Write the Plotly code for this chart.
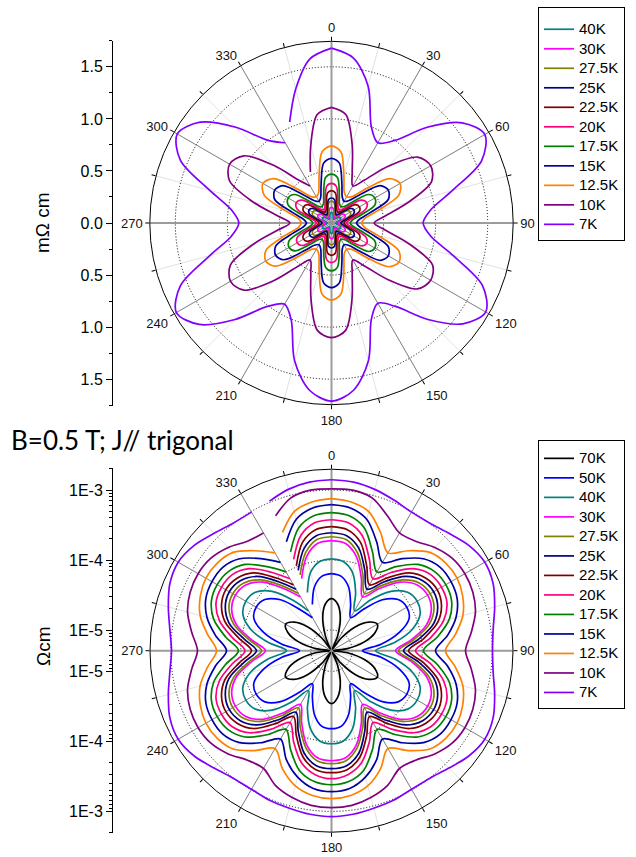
import math
import plotly.graph_objects as go

# ---------------- angles (degrees, clockwise from top) ----------------
theta_deg = [0.0, 7.5, 15.0, 22.5, 30.0, 37.5, 45.0, 52.5, 60.0, 67.5, 75.0, 82.5, 90.0,
             97.5, 105.0, 112.5, 120.0, 127.5, 135.0, 142.5, 150.0, 157.5, 165.0, 172.5, 180.0,
             187.5, 195.0, 202.5, 210.0, 217.5, 225.0, 232.5, 240.0, 247.5, 255.0, 262.5, 270.0,
             277.5, 285.0, 292.5, 300.0, 307.5, 315.0, 322.5, 330.0, 333.75, 337.5, 345.0, 352.5]
angle_ticks = [0, 30, 60, 90, 120, 150, 180, 210, 240, 270, 300, 330]

# ---------------- top panel: resistivity in mOhm cm ----------------
top_labels = ["40K", "30K", "27.5K", "25K", "22.5K", "20K", "17.5K", "15K", "12.5K", "10K", "7K"]
top_colors = ["#008080", "#ff00ff", "#808000", "#000080", "#800000", "#ff0080",
              "#008000", "#0000a0", "#ff8000", "#800080", "#8000ff"]

top_40K = [0.10, 0.093, 0.062, 0.045, 0.04, 0.045, 0.062, 0.093, 0.10, 0.093, 0.062, 0.045, 0.04,
           0.045, 0.062, 0.093, 0.10, 0.093, 0.062, 0.045, 0.04, 0.045, 0.062, 0.093, 0.10,
           0.093, 0.062, 0.045, 0.04, 0.045, 0.062, 0.093, 0.10, 0.093, 0.062, 0.045, 0.04,
           0.045, 0.062, 0.093, 0.10, 0.093, 0.062, 0.045, 0.04, 0.042, 0.045, 0.062, 0.093]
top_30K = [0.15, 0.14, 0.095, 0.065, 0.057, 0.065, 0.095, 0.14, 0.15, 0.14, 0.095, 0.065, 0.057,
           0.065, 0.095, 0.14, 0.15, 0.14, 0.095, 0.065, 0.057, 0.065, 0.095, 0.14, 0.15,
           0.14, 0.095, 0.065, 0.057, 0.065, 0.095, 0.14, 0.15, 0.14, 0.095, 0.065, 0.057,
           0.065, 0.095, 0.14, 0.15, 0.14, 0.095, 0.065, 0.057, 0.06, 0.065, 0.095, 0.14]
top_27_5K = [0.21, 0.195, 0.13, 0.09, 0.08, 0.09, 0.13, 0.195, 0.21, 0.195, 0.13, 0.09, 0.08,
             0.09, 0.13, 0.195, 0.21, 0.195, 0.13, 0.09, 0.08, 0.09, 0.13, 0.195, 0.21,
             0.195, 0.13, 0.09, 0.08, 0.09, 0.13, 0.195, 0.21, 0.195, 0.13, 0.09, 0.08,
             0.09, 0.13, 0.195, 0.21, 0.195, 0.13, 0.09, 0.08, 0.085, 0.09, 0.13, 0.195]
top_25K = [0.24, 0.225, 0.15, 0.105, 0.09, 0.105, 0.15, 0.23, 0.25, 0.23, 0.15, 0.105, 0.09,
           0.105, 0.15, 0.23, 0.25, 0.23, 0.15, 0.105, 0.09, 0.105, 0.15, 0.225, 0.24,
           0.225, 0.15, 0.105, 0.09, 0.105, 0.15, 0.225, 0.24, 0.225, 0.15, 0.105, 0.09,
           0.105, 0.15, 0.23, 0.25, 0.23, 0.15, 0.105, 0.09, 0.095, 0.105, 0.15, 0.225]
top_22_5K = [0.31, 0.29, 0.19, 0.135, 0.12, 0.135, 0.19, 0.29, 0.31, 0.29, 0.19, 0.135, 0.12,
             0.135, 0.19, 0.29, 0.31, 0.29, 0.19, 0.135, 0.12, 0.135, 0.19, 0.29, 0.31,
             0.29, 0.19, 0.135, 0.12, 0.135, 0.19, 0.29, 0.31, 0.29, 0.19, 0.135, 0.12,
             0.135, 0.19, 0.29, 0.31, 0.29, 0.19, 0.135, 0.12, 0.125, 0.135, 0.19, 0.29]
top_20K = [0.38, 0.355, 0.235, 0.165, 0.145, 0.165, 0.235, 0.36, 0.39, 0.36, 0.235, 0.165, 0.145,
           0.165, 0.235, 0.36, 0.39, 0.36, 0.235, 0.165, 0.145, 0.165, 0.235, 0.355, 0.38,
           0.355, 0.235, 0.165, 0.145, 0.165, 0.235, 0.355, 0.38, 0.355, 0.235, 0.165, 0.145,
           0.165, 0.235, 0.36, 0.39, 0.36, 0.235, 0.165, 0.145, 0.15, 0.165, 0.235, 0.355]
top_17_5K = [0.47, 0.44, 0.29, 0.20, 0.18, 0.20, 0.29, 0.45, 0.48, 0.45, 0.29, 0.20, 0.18,
             0.20, 0.29, 0.45, 0.48, 0.45, 0.29, 0.20, 0.18, 0.20, 0.29, 0.43, 0.46,
             0.43, 0.29, 0.20, 0.18, 0.20, 0.29, 0.44, 0.47, 0.44, 0.29, 0.20, 0.18,
             0.20, 0.29, 0.45, 0.48, 0.45, 0.29, 0.20, 0.18, 0.19, 0.20, 0.29, 0.44]
top_15K = [0.62, 0.58, 0.385, 0.27, 0.24, 0.27, 0.385, 0.59, 0.63, 0.59, 0.385, 0.27, 0.24,
           0.27, 0.385, 0.59, 0.63, 0.59, 0.385, 0.27, 0.24, 0.27, 0.385, 0.58, 0.62,
           0.58, 0.385, 0.27, 0.24, 0.27, 0.385, 0.58, 0.62, 0.58, 0.385, 0.27, 0.24,
           0.27, 0.385, 0.59, 0.63, 0.59, 0.385, 0.27, 0.24, 0.25, 0.27, 0.385, 0.58]
top_12_5K = [0.74, 0.69, 0.46, 0.32, 0.29, 0.32, 0.46, 0.70, 0.76, 0.70, 0.46, 0.32, 0.29,
             0.32, 0.46, 0.70, 0.75, 0.69, 0.46, 0.32, 0.29, 0.32, 0.46, 0.69, 0.74,
             0.69, 0.46, 0.32, 0.29, 0.32, 0.46, 0.68, 0.73, 0.68, 0.46, 0.32, 0.29,
             0.32, 0.46, 0.70, 0.76, 0.70, 0.46, 0.32, 0.29, 0.30, 0.32, 0.46, 0.69]
top_10K = [1.11, 1.05, 0.77, 0.52, 0.41, 0.52, 0.77, 1.04, 1.10, 1.04, 0.76, 0.52, 0.41,
           0.52, 0.77, 1.05, 1.10, 1.04, 0.77, 0.52, 0.41, 0.52, 0.76, 1.04, 1.10,
           1.04, 0.76, 0.52, 0.41, 0.52, 0.78, 1.06, 1.12, 1.05, 0.77, 0.52, 0.40,
           0.52, 0.78, 1.06, 1.13, 1.06, 0.78, 0.52, 0.41, None, 0.53, 0.77, 1.05]
top_7K = [1.68, 1.60, 1.36, 1.00, 0.89, 1.00, 1.30, 1.58, 1.70, 1.56, 1.20, 0.96, 0.88,
          0.96, 1.21, 1.57, 1.71, 1.59, 1.31, 1.01, 0.89, 1.00, 1.37, 1.62, 1.71,
          1.62, 1.37, 1.01, 0.90, 1.01, 1.31, 1.60, 1.72, 1.57, 1.21, 0.97, 0.89,
          0.97, 1.21, 1.57, 1.71, 1.59, 1.30, 1.00, 0.89, None, 1.05, 1.33, 1.59]

# ---------------- bottom panel: resistivity in Ohm cm (log radial) ----------------
bot_labels = ["70K", "50K", "40K", "30K", "27.5K", "25K", "22.5K", "20K", "17.5K", "15K", "12.5K", "10K", "7K"]
bot_colors = ["#000000", "#0000ff", "#008080", "#ff00ff", "#808000", "#000080", "#800000",
              "#ff0080", "#008000", "#0000a0", "#ff8000", "#800080", "#8000ff"]

bot_70K = [2.80e-5, 2.38e-5, 1.55e-5, 8.57e-6, 5.41e-6, 8.57e-6, 1.55e-5, 2.38e-5, 2.89e-5, 2.38e-5, 1.55e-5, 8.57e-6, 5.41e-6,
           8.57e-6, 1.55e-5, 2.38e-5, 2.89e-5, 2.38e-5, 1.55e-5, 8.57e-6, 5.41e-6, 8.57e-6, 1.55e-5, 2.38e-5, 2.89e-5,
           2.38e-5, 1.55e-5, 8.57e-6, 5.41e-6, 8.57e-6, 1.55e-5, 2.38e-5, 2.89e-5, 2.38e-5, 1.55e-5, 8.57e-6, 5.41e-6,
           8.57e-6, 1.55e-5, 2.38e-5, 2.89e-5, 2.38e-5, 1.55e-5, 8.57e-6, 5.41e-6, 6.4e-6, 8.57e-6, 1.55e-5, 2.38e-5]
bot_50K = [6.37e-5, 5.97e-5, 4.44e-5, 2.62e-5, 1.77e-5, 2.80e-5, 5.41e-5, 8.02e-5, 8.85e-5, 8.02e-5, 5.06e-5, 2.62e-5, 1.40e-5,
           2.62e-5, 5.06e-5, 8.02e-5, 8.85e-5, 8.02e-5, 5.41e-5, 2.80e-5, 1.77e-5, 2.62e-5, 4.44e-5, 6.17e-5, 6.59e-5,
           6.17e-5, 4.44e-5, 2.62e-5, 1.77e-5, 2.80e-5, 5.41e-5, 8.02e-5, 8.85e-5, 8.02e-5, 5.06e-5, 2.62e-5, 1.45e-5,
           2.62e-5, 5.06e-5, 8.02e-5, 8.85e-5, 8.02e-5, 5.41e-5, 2.80e-5, 1.77e-5, None, 2.62e-5, 4.44e-5, 5.97e-5]
bot_40K = [1.04e-4, 9.77e-5, 7.27e-5, 4.02e-5, 2.30e-5, 4.16e-5, 8.02e-5, 1.19e-4, 1.31e-4, 1.19e-4, 8.02e-5, 4.16e-5, 2.15e-5,
           4.16e-5, 8.02e-5, 1.19e-4, 1.31e-4, 1.19e-4, 8.02e-5, 4.16e-5, 2.30e-5, 4.02e-5, 7.27e-5, 1.01e-4, 1.08e-4,
           1.01e-4, 7.27e-5, 4.02e-5, 2.30e-5, 4.16e-5, 8.02e-5, 1.19e-4, 1.31e-4, 1.19e-4, 8.02e-5, 4.16e-5, 2.22e-5,
           4.16e-5, 8.02e-5, 1.19e-4, 1.31e-4, 1.19e-4, 8.02e-5, 4.16e-5, 2.30e-5, None, 4.02e-5, 7.27e-5, 9.77e-5]
bot_30K = [1.89e-4, 1.77e-4, 1.23e-4, 6.59e-5, 3.89e-5, 6.59e-5, 1.23e-4, 1.77e-4, 1.95e-4, 1.77e-4, 1.27e-4, 7.03e-5, 4.16e-5,
           7.03e-5, 1.27e-4, 1.77e-4, 1.95e-4, 1.77e-4, 1.23e-4, 6.59e-5, 3.89e-5, 6.59e-5, 1.23e-4, 1.77e-4, 1.89e-4,
           1.77e-4, 1.23e-4, 6.59e-5, 3.89e-5, 6.59e-5, 1.23e-4, 1.77e-4, 1.95e-4, 1.77e-4, 1.27e-4, 7.03e-5, 4.44e-5,
           7.03e-5, 1.27e-4, 1.77e-4, 1.95e-4, 1.77e-4, 1.23e-4, 6.59e-5, 3.89e-5, None, 6.59e-5, 1.23e-4, 1.77e-4]
bot_27_5K = [2.15e-4, 2.02e-4, 1.40e-4, 7.51e-5, 4.44e-5, 7.51e-5, 1.36e-4, 1.95e-4, 2.15e-4, 1.95e-4, 1.40e-4, 7.76e-5, 4.59e-5,
             7.76e-5, 1.40e-4, 1.95e-4, 2.15e-4, 1.95e-4, 1.36e-4, 7.51e-5, 4.44e-5, 7.51e-5, 1.36e-4, 1.95e-4, 2.08e-4,
             1.95e-4, 1.36e-4, 7.51e-5, 4.44e-5, 7.51e-5, 1.36e-4, 1.95e-4, 2.15e-4, 1.95e-4, 1.40e-4, 7.76e-5, 5.06e-5,
             7.76e-5, 1.40e-4, 1.95e-4, 2.15e-4, 1.95e-4, 1.36e-4, 7.51e-5, 4.44e-5, None, 7.51e-5, 1.40e-4, 2.02e-4]
bot_25K = [2.45e-4, 2.30e-4, 1.65e-4, 8.85e-5, 5.23e-5, 8.85e-5, 1.60e-4, 2.22e-4, 2.45e-4, 2.22e-4, 1.65e-4, 9.15e-5, 5.41e-5,
           9.15e-5, 1.65e-4, 2.22e-4, 2.45e-4, 2.22e-4, 1.60e-4, 8.85e-5, 5.23e-5, 8.85e-5, 1.65e-4, 2.30e-4, 2.45e-4,
           2.30e-4, 1.65e-4, 8.85e-5, 5.23e-5, 8.85e-5, 1.60e-4, 2.22e-4, 2.45e-4, 2.22e-4, 1.65e-4, 9.15e-5, 5.97e-5,
           9.15e-5, 1.65e-4, 2.22e-4, 2.45e-4, 2.22e-4, 1.60e-4, 8.85e-5, 5.23e-5, None, 8.85e-5, 1.65e-4, 2.30e-4]
bot_22_5K = [2.99e-4, 2.80e-4, 2.02e-4, 1.04e-4, 6.17e-5, 1.04e-4, 1.89e-4, 2.54e-4, 2.80e-4, 2.54e-4, 1.89e-4, 1.08e-4, 6.37e-5,
             1.08e-4, 1.89e-4, 2.54e-4, 2.80e-4, 2.54e-4, 1.89e-4, 1.04e-4, 6.17e-5, 1.04e-4, 1.89e-4, 2.62e-4, 2.80e-4,
             2.62e-4, 1.89e-4, 1.04e-4, 6.17e-5, 1.04e-4, 1.89e-4, 2.54e-4, 2.80e-4, 2.54e-4, 1.89e-4, 1.08e-4, 7.03e-5,
             1.08e-4, 1.89e-4, 2.54e-4, 2.80e-4, 2.54e-4, 1.89e-4, 1.04e-4, 6.17e-5, None, 1.04e-4, 2.02e-4, 2.80e-4]
bot_20K = [3.76e-4, 3.52e-4, 2.54e-4, 1.31e-4, 7.76e-5, 1.31e-4, 2.30e-4, 3.09e-4, 3.30e-4, 3.09e-4, 2.30e-4, 1.36e-4, 8.02e-5,
           1.36e-4, 2.30e-4, 3.09e-4, 3.30e-4, 3.09e-4, 2.30e-4, 1.31e-4, 7.76e-5, 1.31e-4, 2.30e-4, 3.09e-4, 3.41e-4,
           3.09e-4, 2.30e-4, 1.31e-4, 7.76e-5, 1.31e-4, 2.30e-4, 3.09e-4, 3.30e-4, 3.09e-4, 2.30e-4, 1.36e-4, 8.70e-5,
           1.36e-4, 2.30e-4, 3.09e-4, 3.30e-4, 3.09e-4, 2.30e-4, 1.31e-4, 7.76e-5, None, 1.31e-4, 2.54e-4, 3.52e-4]
bot_17_5K = [4.74e-4, 4.44e-4, 3.30e-4, 1.71e-4, 1.01e-4, 1.65e-4, 2.80e-4, 3.64e-4, 3.89e-4, 3.64e-4, 2.80e-4, 1.71e-4, 1.04e-4,
             1.71e-4, 2.80e-4, 3.64e-4, 3.89e-4, 3.64e-4, 2.80e-4, 1.65e-4, 1.01e-4, 1.71e-4, 2.99e-4, 3.89e-4, 4.16e-4,
             3.89e-4, 2.99e-4, 1.71e-4, 1.01e-4, 1.65e-4, 2.80e-4, 3.64e-4, 3.89e-4, 3.64e-4, 2.80e-4, 1.71e-4, 1.08e-4,
             1.71e-4, 2.80e-4, 3.64e-4, 3.89e-4, 3.64e-4, 2.80e-4, 1.65e-4, 1.01e-4, None, 1.71e-4, 3.30e-4, 4.44e-4]
bot_15K = [6.17e-4, 5.77e-4, 4.44e-4, 2.45e-4, 1.45e-4, 2.30e-4, 3.64e-4, 4.59e-4, 4.74e-4, 4.44e-4, 3.52e-4, 2.38e-4, 1.55e-4,
           2.38e-4, 3.52e-4, 4.44e-4, 4.74e-4, 4.59e-4, 3.64e-4, 2.30e-4, 1.45e-4, 2.45e-4, 3.76e-4, 4.90e-4, 5.23e-4,
           4.90e-4, 3.76e-4, 2.45e-4, 1.45e-4, 2.30e-4, 3.64e-4, 4.59e-4, 4.74e-4, 4.44e-4, 3.52e-4, 2.38e-4, 1.60e-4,
           2.38e-4, 3.52e-4, 4.44e-4, 4.74e-4, 4.59e-4, 3.64e-4, 2.30e-4, 1.45e-4, None, 2.45e-4, 4.44e-4, 5.77e-4]
bot_12_5K = [7.51e-4, 7.03e-4, 5.77e-4, 3.41e-4, 2.08e-4, 3.19e-4, 4.90e-4, 5.77e-4, 5.97e-4, 5.41e-4, 4.44e-4, 3.09e-4, 2.15e-4,
             3.09e-4, 4.44e-4, 5.41e-4, 5.97e-4, 5.77e-4, 4.90e-4, 3.19e-4, 2.08e-4, 3.41e-4, 5.06e-4, 6.17e-4, 6.59e-4,
             6.17e-4, 5.06e-4, 3.41e-4, 2.08e-4, 3.19e-4, 4.90e-4, 5.77e-4, 5.97e-4, 5.41e-4, 4.44e-4, 3.09e-4, 2.22e-4,
             3.09e-4, 4.44e-4, 5.41e-4, 5.97e-4, 5.77e-4, 4.90e-4, 3.19e-4, 2.08e-4, None, 3.41e-4, 5.77e-4, 7.03e-4]
bot_10K = [1.04e-3, 1.04e-3, 9.15e-4, 6.17e-4, 4.44e-4, 4.74e-4, 6.17e-4, 7.51e-4, 8.02e-4, 7.76e-4, 6.81e-4, 5.23e-4, 4.16e-4,
           5.23e-4, 6.81e-4, 7.76e-4, 8.02e-4, 7.51e-4, 6.17e-4, 4.74e-4, 4.44e-4, 6.17e-4, 7.51e-4, 8.57e-4, 8.85e-4,
           8.57e-4, 7.51e-4, 6.17e-4, 4.44e-4, 4.74e-4, 6.17e-4, 7.51e-4, 8.02e-4, 7.76e-4, 6.81e-4, 5.23e-4, 4.16e-4,
           5.23e-4, 6.81e-4, 7.76e-4, 8.02e-4, 7.51e-4, 6.17e-4, 4.74e-4, 4.44e-4, None, 6.17e-4, 9.15e-4, 1.04e-3]
bot_7K = [1.40e-3, 1.36e-3, 1.23e-3, 1.08e-3, 9.77e-4, 1.01e-3, 1.19e-3, 1.50e-3, 1.71e-3, 1.60e-3, 1.31e-3, 1.08e-3, 1.01e-3,
          1.08e-3, 1.31e-3, 1.60e-3, 1.71e-3, 1.50e-3, 1.19e-3, 1.01e-3, 9.77e-4, 1.04e-3, 1.08e-3, 1.15e-3, 1.19e-3,
          1.15e-3, 1.08e-3, 1.04e-3, 9.77e-4, 1.01e-3, 1.19e-3, 1.50e-3, 1.71e-3, 1.60e-3, 1.31e-3, 1.08e-3, 9.77e-4,
          1.08e-3, 1.31e-3, 1.60e-3, 1.71e-3, 1.50e-3, 1.19e-3, 1.01e-3, 9.77e-4, None, 1.04e-3, 1.23e-3, 1.36e-3]

top_series = [top_40K, top_30K, top_27_5K, top_25K, top_22_5K, top_20K, top_17_5K,
              top_15K, top_12_5K, top_10K, top_7K]
bot_series = [bot_70K, bot_50K, bot_40K, bot_30K, bot_27_5K, bot_25K, bot_22_5K,
              bot_20K, bot_17_5K, bot_15K, bot_12_5K, bot_10K, bot_7K]

# left-hand axis labels
top_axis_vals = [-1.5, -1.0, -0.5, 0.0, 0.5, 1.0, 1.5]
top_axis_text = ["1.5", "1.0", "0.5", "0.0", "0.5", "1.0", "1.5"]
bot_decades = [1e-5, 1e-4, 1e-3]
bot_decade_text = ["1E-5", "1E-4", "1E-3"]

# ---------------- geometry ----------------
W, H = 636, 857
TOP_C = (331.5, 223.0)
BOT_C = (331.5, 650.7)
R_TOP, R_BOT = 181.7, 181.5
TOP_RMAX = 1.745                 # mOhm cm at the rim
BOT_LOGMIN, BOT_LOGMAX = -5.2957, -2.7029   # log10(Ohm cm) at centre / rim
AXIS_X = 113.0
FONT = "Arial, Liberation Sans, sans-serif"
LEG_FS = 12.7   # sets the row pitch (19.5 px)
LEG_TXT = 15    # visible text size


def dom(c, r):
    return dict(x=[(c[0] - r) / W, (c[0] + r) / W], y=[1 - (c[1] + r) / H, 1 - (c[1] - r) / H])


def closed(vals):
    return vals + [vals[0]]


def leg_name(s):
    return '<span style="font-size:%dpx">%s</span>' % (LEG_TXT, s)


theta_closed = theta_deg + [360.0]

fig = go.Figure()

# spokes (major angular grid every 30 deg)
for poly, rlo, rhi in (("polar", 0, TOP_RMAX), ("polar2", 10 ** BOT_LOGMIN, 10 ** BOT_LOGMAX)):
    for a in angle_ticks:
        main = a % 90 == 0
        fig.add_trace(go.Scatterpolar(r=[rlo, rhi], theta=[a, a], mode="lines", subplot=poly,
                                      line=dict(color="#9c9c9c" if main else "#858585",
                                                width=2 if main else 1),
                                      showlegend=False, hoverinfo="skip"))

for name, vals, col in zip(top_labels, top_series, top_colors):
    fig.add_trace(go.Scatterpolar(r=closed(vals), theta=theta_closed, mode="lines", name=leg_name(name),
                                  subplot="polar", legend="legend",
                                  line=dict(color=col, width=1.7, shape="spline", smoothing=0.9),
                                  connectgaps=False))

for name, vals, col in zip(bot_labels, bot_series, bot_colors):
    fig.add_trace(go.Scatterpolar(r=closed(vals), theta=theta_closed, mode="lines", name=leg_name(name),
                                  subplot="polar2", legend="legend2",
                                  line=dict(color=col, width=1.7, shape="spline", smoothing=0.9),
                                  connectgaps=False))

# dummy traces to realise the left-hand scale axes
fig.add_trace(go.Scatter(x=[None], y=[None], xaxis="x", yaxis="y", showlegend=False, hoverinfo="skip"))
fig.add_trace(go.Scatter(x=[None], y=[None], xaxis="x2", yaxis="y2", showlegend=False, hoverinfo="skip"))

ang_vals = list(range(0, 360, 15))
ang_text = [str(a) if a % 30 == 0 else "" for a in ang_vals]
angular = dict(rotation=90, direction="clockwise", tickmode="array", tickvals=ang_vals,
               ticktext=ang_text, showgrid=True, gridcolor="#e2e2e2", gridwidth=1,
               showline=True, linecolor="black", linewidth=1, ticks="outside", ticklen=4,
               tickcolor="black", tickfont=dict(family=FONT, size=13, color="#111"))

# left axis geometry
top_half = 182.5
top_scale = 104.1
bot_half = 182.3
bot_scale = 70.0
top_ydom = [1 - (TOP_C[1] + top_half) / H, 1 - (TOP_C[1] - top_half) / H]
bot_ydom = [1 - (BOT_C[1] + bot_half) / H, 1 - (BOT_C[1] - bot_half) / H]

bot_u = [math.log10(v) - BOT_LOGMIN for v in bot_decades]
bot_tickvals = [-u for u in bot_u] + bot_u
bot_ticktext = bot_decade_text + bot_decade_text
bot_minor = []
for d in (-6, -5, -4, -3):
    for k in range(2, 10):
        u = math.log10(k) + d - BOT_LOGMIN
        if 0 < u < bot_half / bot_scale:
            bot_minor += [u, -u]

legend_common = dict(xanchor="left", yanchor="top", bordercolor="black", borderwidth=1,
                     bgcolor="white", font=dict(family=FONT, size=LEG_FS), traceorder="normal",
                     entrywidth=62, entrywidthmode="pixels")

fig.update_layout(
    width=W, height=H, margin=dict(l=0, r=0, t=0, b=0),
    paper_bgcolor="white", plot_bgcolor="white",
    font=dict(family=FONT, color="black"),
    polar=dict(domain=dom(TOP_C, R_TOP), bgcolor="white",
               radialaxis=dict(range=[0, TOP_RMAX], tickvals=[0.5, 1.0, 1.5], showticklabels=False,
                               ticks="", showline=False, gridcolor="black", gridwidth=1, griddash="1px,2px"),
               angularaxis=angular),
    polar2=dict(domain=dom(BOT_C, R_BOT), bgcolor="white",
                radialaxis=dict(type="log", range=[BOT_LOGMIN, BOT_LOGMAX], tickvals=bot_decades,
                                showticklabels=False, ticks="", showline=False,
                                gridcolor="black", gridwidth=1, griddash="1px,2px"),
                angularaxis=angular),
    xaxis=dict(domain=[AXIS_X / W, (AXIS_X + 10) / W], visible=False, range=[0, 1], anchor="y"),
    yaxis=dict(domain=top_ydom, range=[-top_half / top_scale, top_half / top_scale], anchor="x",
               showline=True, linecolor="black", linewidth=1, ticks="outside", ticklen=6,
               tickcolor="black", tickmode="array", tickvals=top_axis_vals, ticktext=top_axis_text,
               showgrid=False, zeroline=False, tickfont=dict(family=FONT, size=16),
               minor=dict(ticks="outside", ticklen=3, tickcolor="black",
                          tickvals=[-1.75, -1.25, -0.75, -0.25, 0.25, 0.75, 1.25, 1.75])),
    xaxis2=dict(domain=[AXIS_X / W, (AXIS_X + 10) / W], visible=False, range=[0, 1], anchor="y2"),
    yaxis2=dict(domain=bot_ydom, range=[-bot_half / bot_scale, bot_half / bot_scale], anchor="x2",
                showline=True, linecolor="black", linewidth=1, ticks="outside", ticklen=6,
                tickcolor="black", tickmode="array", tickvals=bot_tickvals, ticktext=bot_ticktext,
                showgrid=False, zeroline=False, tickfont=dict(family=FONT, size=16),
                minor=dict(ticks="outside", ticklen=3, tickcolor="black", tickvals=bot_minor)),
    legend=dict(x=538 / W, y=1 - 7 / H,
                title=dict(text="\u00a0", font=dict(family=FONT, size=5)), **legend_common),
    legend2=dict(x=538 / W, y=1 - 440 / H,
                 title=dict(text="\u00a0", font=dict(family=FONT, size=2)), **legend_common),
    annotations=[
        dict(text="m\u03a9 cm", x=43 / W, y=1 - TOP_C[1] / H, xref="paper", yref="paper",
             xanchor="center", yanchor="middle",
             textangle=-90, showarrow=False, font=dict(family=FONT, size=19)),
        dict(text="\u03a9cm", x=43 / W, y=1 - 646 / H, xref="paper", yref="paper",
             xanchor="center", yanchor="middle",
             textangle=-90, showarrow=False, font=dict(family=FONT, size=19)),
        dict(text="B=0.5 T; J// trigonal", x=9 / W, y=1 - 440 / H, xref="paper", yref="paper",
             xanchor="left", yanchor="middle", showarrow=False,
             font=dict(family="Lato, Open Sans, sans-serif", size=26)),
    ],
)

fig.write_html("out.html", config={"displayModeBar": False},
               post_script="document.body.style.margin='0px';")
